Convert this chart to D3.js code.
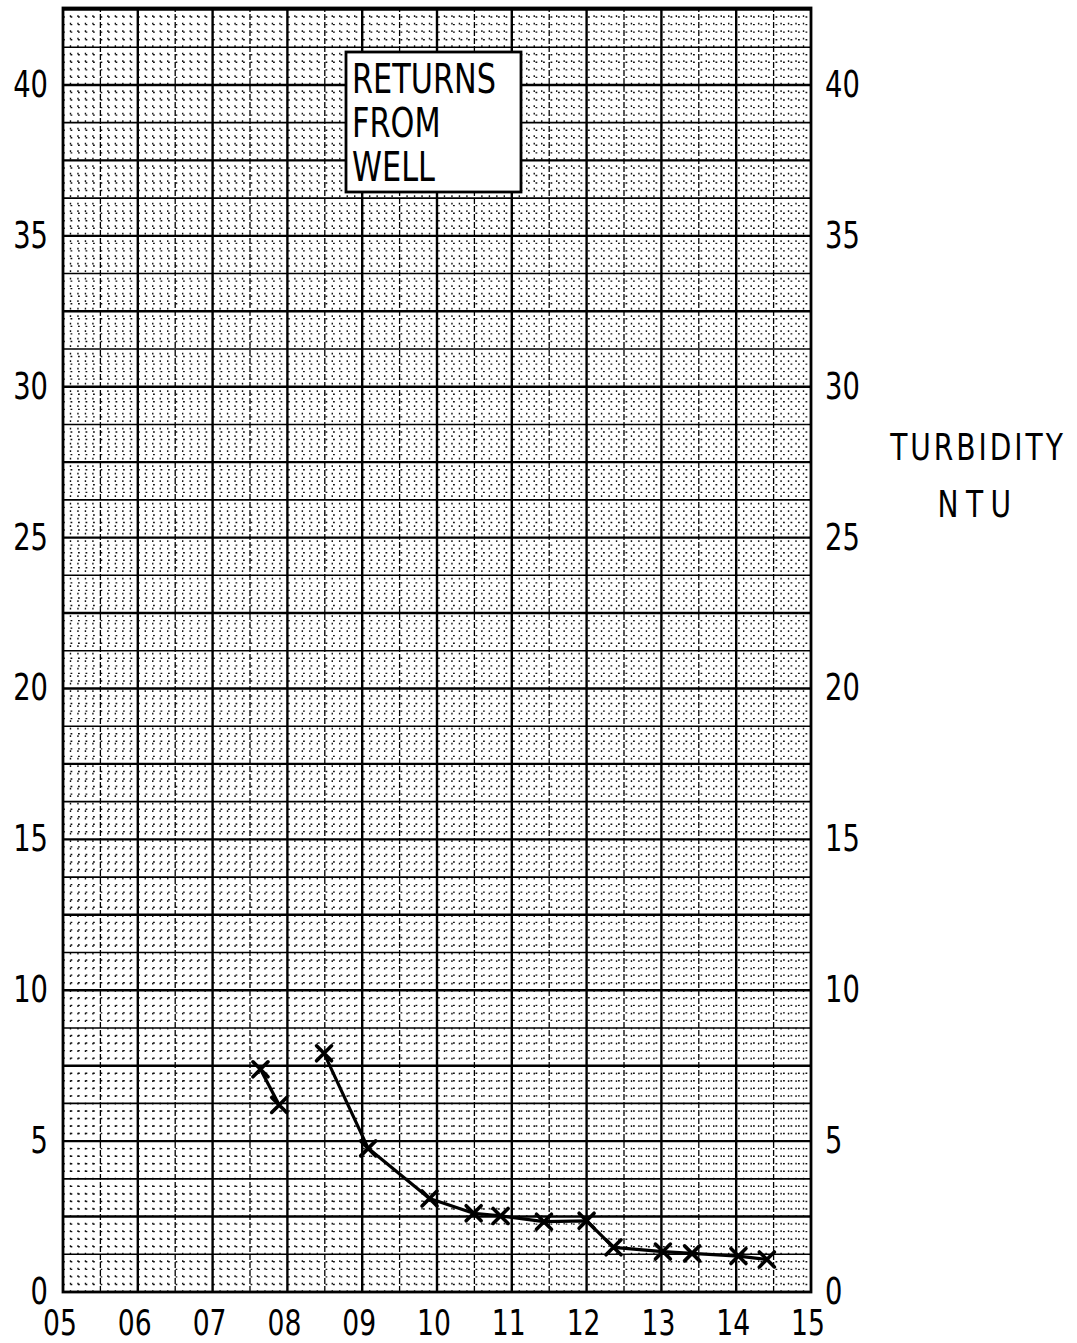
<!DOCTYPE html>
<html>
<head>
<meta charset="utf-8">
<script src="https://cdn.jsdelivr.net/npm/d3@7"></script>
<style>
  html, body { margin: 0; padding: 0; background: #fff; }
  svg { display: block; }
  text { font-family: "DejaVu Sans", sans-serif; fill: #000; }
</style>
</head>
<body>
<div id="chart"></div>
<script>
const width = 1077,
  height = 1343;

// hours of the day on the bottom axis
const hourTicks = [5, 6, 7, 8, 9, 10, 11, 12, 13, 14, 15];
// turbidity ticks (NTU), same on both sides
const ntuTicks = [0, 5, 10, 15, 20, 25, 30, 35, 40];

// first short run of samples
const runATime = [7.64, 7.89];
const runANtu = [7.38, 6.2];

// second run, returns from well
const runBTime = [8.49, 9.08, 9.90, 10.49, 10.85, 11.43, 12.0, 12.36, 13.02, 13.41, 14.03, 14.41];
const runBNtu = [7.91, 4.76, 3.10, 2.61, 2.52, 2.33, 2.36, 1.48, 1.34, 1.28, 1.19, 1.08];

const legendLines = ['RETURNS', 'FROM', 'WELL'];
const titleLines = ['TURBIDITY', 'NTU'];

const narrow = 0.74; // squeeze DejaVu to look like stencil lettering

const x = d3.scaleLinear()
  .domain([5, 15])
  .range([63, 811]);

const y = d3.scaleLinear()
  .domain([0, 42.55])
  .range([1292, 8]);

const svg = d3.select('#chart').append('svg')
  .attr('width', width)
  .attr('height', height);

const [x0, x1] = x.range();
const [y0, y1] = y.range();

const place = (px, py) => `translate(${px},${py}) scale(${narrow},1)`;

// graph paper: dotted minor, medium half-steps, heavy main lines
const grid = svg.append('g').attr('class', 'grid');

const xMinor = d3.range(0, 101).map(i => 5 + i / 10).filter(v => (Math.round(v * 10) % 5) !== 0);
const xMid = d3.range(0, 10).map(i => 5.5 + i);
const xMajor = d3.range(6, 15);

const yMinor = d3.range(0, 171).map(i => i / 4).filter(v => v < 42.55 && (Math.round(v * 4) % 5) !== 0);
const yMid = d3.range(0, 17).map(i => 1.25 + i * 2.5);
const yMajor = d3.range(1, 18).map(i => i * 2.5);

grid.selectAll('line.vminor')
  .data(xMinor)
  .join('line')
  .attr('class', 'vminor')
  .attr('x1', d => x(d)).attr('x2', d => x(d))
  .attr('y1', y0).attr('y2', y1)
  .attr('stroke', '#111')
  .attr('stroke-width', 1.4)
  .attr('stroke-dasharray', '1.8,5.7');

grid.selectAll('line.hminor')
  .data(yMinor)
  .join('line')
  .attr('class', 'hminor')
  .attr('x1', x0).attr('x2', x1)
  .attr('y1', d => y(d)).attr('y2', d => y(d))
  .attr('stroke', '#111')
  .attr('stroke-width', 1.4)
  .attr('stroke-dasharray', '1.8,5.7');

grid.selectAll('line.vmid')
  .data(xMid)
  .join('line')
  .attr('class', 'vmid')
  .attr('x1', d => x(d)).attr('x2', d => x(d))
  .attr('y1', y0).attr('y2', y1)
  .attr('stroke', '#000')
  .attr('stroke-width', 1.3)
  .attr('stroke-dasharray', '6,2');

grid.selectAll('line.hmid')
  .data(yMid.filter(v => v < 42.55))
  .join('line')
  .attr('class', 'hmid')
  .attr('x1', x0).attr('x2', x1)
  .attr('y1', d => y(d)).attr('y2', d => y(d))
  .attr('stroke', '#000')
  .attr('stroke-width', 1.6);

grid.selectAll('line.vmajor')
  .data(xMajor)
  .join('line')
  .attr('class', 'vmajor')
  .attr('x1', d => x(d)).attr('x2', d => x(d))
  .attr('y1', y0).attr('y2', y1)
  .attr('stroke', '#000')
  .attr('stroke-width', 2.4);

grid.selectAll('line.hmajor')
  .data(yMajor.filter(v => v < 42.55))
  .join('line')
  .attr('class', 'hmajor')
  .attr('x1', x0).attr('x2', x1)
  .attr('y1', d => y(d)).attr('y2', d => y(d))
  .attr('stroke', '#000')
  .attr('stroke-width', 2.4);

// frame
svg.append('rect')
  .attr('x', x0).attr('y', y1)
  .attr('width', x1 - x0).attr('height', y0 - y1)
  .attr('fill', 'none')
  .attr('stroke', '#000')
  .attr('stroke-width', 2.8);

// axes labels
const fmt = d3.format('02d');

svg.append('g').selectAll('text')
  .data(hourTicks)
  .join('text')
  .attr('transform', d => place(x(d) - 3, 1335))
  .attr('text-anchor', 'middle')
  .attr('font-size', 36)
  .text(d => fmt(d));

svg.append('g').selectAll('text')
  .data(ntuTicks)
  .join('text')
  .attr('transform', d => place(48, y(d) + 12))
  .attr('text-anchor', 'end')
  .attr('font-size', 37)
  .text(d => d);

svg.append('g').selectAll('text')
  .data(ntuTicks)
  .join('text')
  .attr('transform', d => place(825, y(d) + 12))
  .attr('text-anchor', 'start')
  .attr('font-size', 37)
  .text(d => d);

// axis title on the right
svg.append('g').selectAll('text')
  .data(titleLines)
  .join('text')
  .attr('transform', (d, i) => place(978, 460 + i * 57))
  .attr('text-anchor', 'middle')
  .attr('font-size', 38)
  .attr('letter-spacing', (d, i) => i === 0 ? 4 : 10)
  .text(d => d);

// legend box
const legend = svg.append('g');
legend.append('rect')
  .attr('x', 346).attr('y', 52)
  .attr('width', 175).attr('height', 140)
  .attr('fill', '#fff')
  .attr('stroke', '#000')
  .attr('stroke-width', 2.8);

legend.selectAll('text')
  .data(legendLines)
  .join('text')
  .attr('transform', (d, i) => place(352, 93 + i * 44))
  .attr('font-size', 41)
  .text(d => d);

// data
const line = d3.line()
  .x(d => x(d[0]))
  .y(d => y(d[1]));

const runs = [
  d3.zip(runATime, runANtu),
  d3.zip(runBTime, runBNtu)
];

const marks = svg.append('g');

marks.selectAll('path.run')
  .data(runs)
  .join('path')
  .attr('class', 'run')
  .attr('d', line)
  .attr('fill', 'none')
  .attr('stroke', '#000')
  .attr('stroke-width', 3.2)
  .attr('stroke-linejoin', 'round');

const cross = s => {
  const p = d3.path();
  p.moveTo(-s, -s); p.lineTo(s, s);
  p.moveTo(-s, s); p.lineTo(s, -s);
  return p.toString();
};

marks.selectAll('path.pt')
  .data(runs.flat())
  .join('path')
  .attr('class', 'pt')
  .attr('transform', d => `translate(${x(d[0])},${y(d[1])})`)
  .attr('d', cross(7.5))
  .attr('stroke', '#000')
  .attr('stroke-width', 3.6)
  .attr('stroke-linecap', 'round');
</script>
</body>
</html>
